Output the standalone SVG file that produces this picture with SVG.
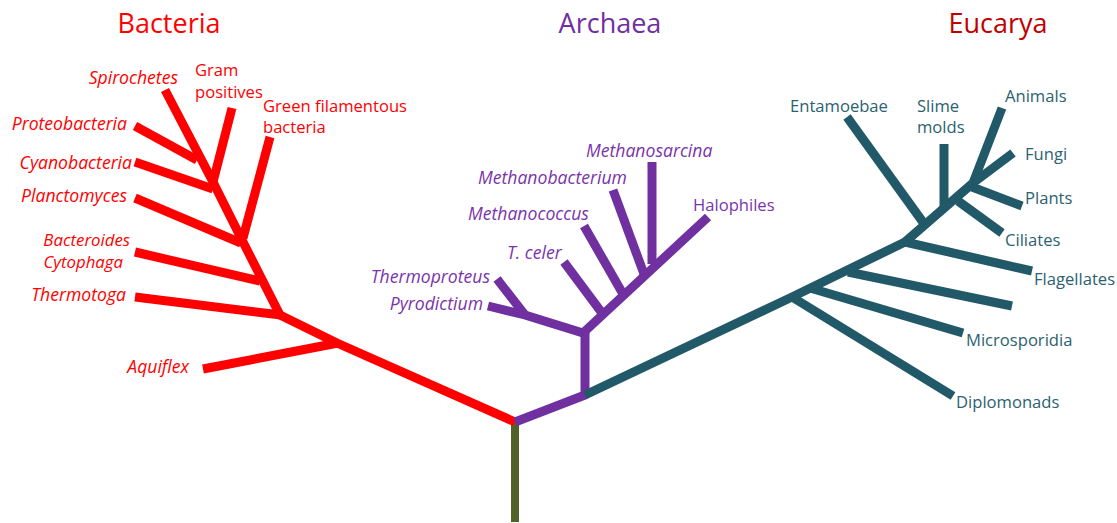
<svg xmlns="http://www.w3.org/2000/svg" width="1117" height="523" viewBox="0 0 1117 523">
<style>
.t{font-family:"Open Sans","Liberation Sans",sans-serif;font-size:16.6px}
.i{font-style:italic;font-size:17.6px}
.title{font-family:"Open Sans","Liberation Sans",sans-serif;font-size:27px;text-anchor:middle}
.bac{fill:#ff0000}
.arc{fill:#7a34aa}
.euc{fill:#2b6270}
.e{text-anchor:end}
.lb{stroke:#ff0000;stroke-width:9;fill:none;stroke-linejoin:round}
.la{stroke:#7030a0;stroke-width:9;fill:none;stroke-linejoin:round}
.le{stroke:#215968;stroke-width:9;fill:none;stroke-linejoin:round}
.lr{stroke:#4f6228;stroke-width:8;fill:none}
</style>
<rect width="1117" height="523" fill="#ffffff"/>
<g id="titles">
<text class="title" x="169" y="33" fill="#ff0000">Bacteria</text>
<text class="title" x="610" y="33" fill="#7030a0">Archaea</text>
<text class="title" x="998" y="33" fill="#c00000">Eucarya</text>
</g>
<g id="connectors">
<path class="lr" d="M515,422 V522"/>
<path class="lb" d="M515,422 L337,343 L280,315 L242,240 L212,180 L165,90"/>
<path class="lb" d="M135,126 L197,160"/>
<path class="lb" d="M232,108 L213,182"/>
<path class="lb" d="M135,162 L213,189"/>
<path class="lb" d="M270,137 L243,238"/>
<path class="lb" d="M135,198 L241,243"/>
<path class="lb" d="M135,252 L260,281"/>
<path class="lb" d="M135,297 L281,315"/>
<path class="lb" d="M203,369 L338,343"/>
<path class="la" d="M515,422 L585,395 V333"/>
<path class="la" d="M583,333 L525,315 L488,306"/>
<path class="la" d="M497,279 L525,315"/>
<path class="la" d="M583,333 L708,217"/>
<path class="la" d="M564,262 L602,313"/>
<path class="la" d="M584,226 L623,294"/>
<path class="la" d="M613,190 L644,274"/>
<path class="la" d="M652,162 V264"/>
<path class="le" d="M585,395 L792,297 L905,242 L973,183 L1002,108"/>
<path class="le" d="M973,183 L1013,153"/>
<path class="le" d="M847,117 L925,225"/>
<path class="le" d="M944,144 V207"/>
<path class="le" d="M972,187 L1022,206"/>
<path class="le" d="M958,201 L1002,233"/>
<path class="le" d="M905,242 L1032,271"/>
<path class="le" d="M848,272 L1012,306"/>
<path class="le" d="M810,288 L963,333"/>
<path class="le" d="M792,297 L953,396"/>
</g>
<g id="bacteria-labels" class="t bac">
<text id="spirochetes" class="i e" x="178" y="84">Spirochetes</text>
<text id="gram" x="195" y="76">Gram<tspan x="195" y="98">positives</tspan></text>
<text id="green" x="263" y="112">Green filamentous<tspan x="263" y="133">bacteria</tspan></text>
<text id="proteobacteria" class="i e" x="127" y="130">Proteobacteria</text>
<text id="cyanobacteria" class="i e" x="132" y="169">Cyanobacteria</text>
<text id="planctomyces" class="i e" x="127" y="202">Planctomyces</text>
<text id="bacteroides" class="i e" x="130" y="246" style="font-size:16.8px">Bacteroides<tspan x="123" y="268">Cytophaga</tspan></text>
<text id="thermotoga" class="i e" x="126" y="301">Thermotoga</text>
<text id="aquiflex" class="i e" x="189" y="373">Aquiflex</text>
</g>
<g id="archaea-labels" class="t arc">
<text id="methanosarcina" class="i" x="586" y="157">Methanosarcina</text>
<text id="methanobacterium" class="i" x="478" y="184">Methanobacterium</text>
<text id="methanococcus" class="i" x="468" y="220">Methanococcus</text>
<text id="halophiles" x="693" y="211">Halophiles</text>
<text id="tceler" class="i" x="507" y="259">T. celer</text>
<text id="thermoproteus" class="i e" x="490" y="283">Thermoproteus</text>
<text id="pyrodictium" class="i e" x="483" y="310">Pyrodictium</text>
</g>
<g id="eucarya-labels" class="t euc">
<text id="entamoebae" x="790" y="112">Entamoebae</text>
<text id="slime" x="917" y="112">Slime<tspan x="917" y="133">molds</tspan></text>
<text id="animals" x="1005" y="102">Animals</text>
<text id="fungi" x="1025" y="160">Fungi</text>
<text id="plants" x="1025" y="204">Plants</text>
<text id="ciliates" x="1005" y="246">Ciliates</text>
<text id="flagellates" x="1034" y="285">Flagellates</text>
<text id="microsporidia" x="966" y="346">Microsporidia</text>
<text id="diplomonads" x="956" y="408">Diplomonads</text>
</g>
</svg>
